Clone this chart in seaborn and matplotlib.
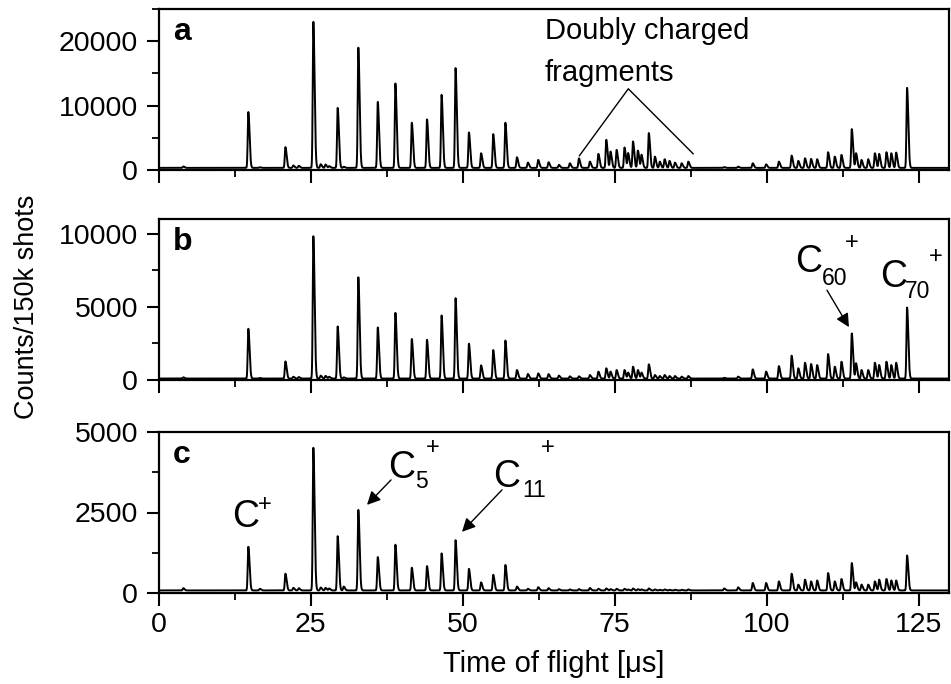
import numpy as np
import pandas as pd
import matplotlib
matplotlib.use("Agg")
import matplotlib.pyplot as plt
import matplotlib.transforms as mtrans
from matplotlib.ticker import MultipleLocator
import seaborn as sns

# ---------------- data ----------------
# singly charged small clusters C1+ ... C20+
pos_main = [14.7, 20.8, 25.4, 29.4, 32.8, 36.0, 38.9, 41.6, 44.1, 46.5,
            48.8, 51.0, 53.0, 55.0, 57.0, 58.9, 60.7, 62.4, 64.1, 65.8]
a_main = [9000, 3550, 23000, 9640, 19000, 10580, 13440, 7340, 7860, 11670,
          15830, 5830, 2600, 5570, 7340, 1980, 1150, 1560, 1200, 800]
b_main = [3500, 1270, 9820, 3660, 7020, 3590, 4590, 2800, 2750, 4410,
          5590, 2480, 1000, 2045, 2700, 680, 410, 450, 400, 300]
c_main = [1435, 600, 4510, 1765, 2580, 1115, 1500, 785, 835, 1230,
          1640, 750, 330, 565, 870, 200, 130, 180, 150, 120]

# doubly charged fullerene fragments
pos_dbl = [67.6, 69.1, 70.9, 72.3, 73.6, 74.3, 75.3, 76.6, 77.2, 78.0,
           78.8, 79.4, 80.6, 81.6, 82.4, 83.2, 84.0, 84.9, 86.0, 87.1]
a_dbl = [1040, 1800, 1300, 2500, 4690, 2860, 3125, 3490, 2600, 4430,
         3020, 2340, 5730, 2080, 1300, 1670, 1410, 1150, 1040, 1300]
b_dbl = [250, 250, 340, 570, 800, 570, 680, 680, 500, 910,
         680, 500, 1070, 340, 270, 340, 270, 270, 230, 270]
c_dbl = [110, 120, 155, 130, 140, 120, 130, 130, 110, 140,
         120, 110, 140, 110, 100, 110, 100, 100, 100, 110]

# large fullerenes region (C60+, C70+ and fragments)
pos_ful = [95.3, 97.7, 99.9, 102.0, 104.1, 105.2, 106.3, 107.3, 108.3, 110.1,
           111.2, 112.3, 114.0, 114.7, 115.6, 116.7, 117.8, 118.5, 119.7, 120.5,
           121.3, 123.1]
a_ful = [520, 1040, 880, 1300, 2240, 1410, 1820, 1720, 1670, 2760,
         2080, 2340, 6350, 2600, 1560, 1670, 2600, 2500, 2760, 2600,
         2710, 12760]
b_ful = [230, 725, 570, 950, 1660, 800, 1180, 1090, 1020, 1770,
         910, 1250, 3180, 1140, 680, 680, 1180, 1020, 1250, 1020,
         1180, 4950]
c_ful = [175, 310, 310, 360, 600, 260, 415, 360, 390, 620,
         360, 435, 930, 330, 260, 260, 360, 415, 435, 390,
         390, 1165]

# minor satellite features
pos_min = [4.0, 16.6, 22.1, 23.0, 26.6, 27.4, 28.0, 30.4, 93.0]
a_min = [550, 420, 700, 650, 900, 850, 600, 500, 450]
b_min = [180, 140, 220, 200, 300, 280, 220, 180, 150]
c_min = [150, 130, 160, 150, 170, 160, 140, 200, 140]

baselines = {"a": 330, "b": 100, "c": 80}
ylims = {"a": (0, 25000), "b": (0, 11000), "c": (0, 5000)}
ymajor = {"a": 10000, "b": 5000, "c": 2500}
panels = ["a", "b", "c"]
tops = {
    "a": (a_main, a_dbl, a_ful, a_min),
    "b": (b_main, b_dbl, b_ful, b_min),
    "c": (c_main, c_dbl, c_ful, c_min),
}
xticks = [0, 25, 50, 75, 100, 125]

# ---------------- build spectra ----------------
t = np.arange(0, 130.001, 0.02)
positions = pos_main + pos_dbl + pos_ful + pos_min


def spectrum(panel):
    base = baselines[panel]
    heights = sum((list(h) for h in tops[panel]), [])
    y = np.full_like(t, float(base))
    for p, h in zip(positions, heights):
        amp = max(h - base, 0)
        sig = np.where(t < p, 0.10, 0.20)
        y += amp * np.exp(-0.5 * ((t - p) / sig) ** 2)
    return y


frames = [pd.DataFrame({"tof": t, "counts": spectrum(p), "panel": p}) for p in panels]
df = pd.concat(frames, ignore_index=True)

# ---------------- figure ----------------
sns.set_theme(style="ticks")
plt.rcParams["font.family"] = ["Liberation Sans", "DejaVu Sans"]
plt.rcParams["axes.linewidth"] = 1.6
for k in ["text.color", "axes.labelcolor", "xtick.color", "ytick.color",
          "axes.edgecolor", "xtick.labelcolor", "ytick.labelcolor"]:
    plt.rcParams[k] = "black"

W, H = 951, 684
fig = plt.figure(figsize=(W / 100, H / 100), dpi=100)
left, right = 159, 949
boxes = {"a": (9, 170), "b": (219, 380), "c": (432, 593)}
axes = {}
for p in panels:
    top, bot = boxes[p]
    ax = fig.add_axes([left / W, 1 - bot / H, (right - left) / W, (bot - top) / H])
    axes[p] = ax
    sub = df[df["panel"] == p]
    sns.lineplot(data=sub, x="tof", y="counts", ax=ax, color="black",
                 linewidth=1.4, estimator=None, sort=False)
    ax.set_xlim(0, 130)
    ax.set_ylim(*ylims[p])
    ax.set_xticks(xticks)
    ax.xaxis.set_minor_locator(MultipleLocator(12.5))
    ax.yaxis.set_major_locator(MultipleLocator(ymajor[p]))
    ax.yaxis.set_minor_locator(MultipleLocator(ymajor[p] / 2))
    ax.tick_params(which="major", direction="out", length=9, width=1.5,
                   labelsize=20.5, pad=5, colors="black")
    ax.tick_params(which="minor", direction="out", length=5, width=1.3,
                   colors="black")
    ax.tick_params(axis="y", which="major", pad=6)
    for s in ax.spines.values():
        s.set_visible(True)
        s.set_color("black")
        s.set_linewidth(1.6)
    ax.set_xlabel("")
    ax.set_ylabel("")
    if p != "c":
        ax.tick_params(axis="x", labelbottom=False)
    ax.text(0.018, 0.81, p, transform=ax.transAxes, fontsize=23,
            fontweight="bold", va="baseline", ha="left", color="black")

fig.text(554 / W, 1 - 672 / H, "Time of flight [\u03bcs]", fontsize=21,
         ha="center", va="baseline", color="black")
fig.text(27 / W, 1 - 307 / H, "Counts/150k shots", fontsize=19.5,
         ha="center", va="center", rotation=90, color="black")

# ---------------- annotations ----------------
axa, axb, axc = axes["a"], axes["b"], axes["c"]
axa.text(63.5, 20310, "Doubly charged", fontsize=21, ha="left", va="baseline")
axa.text(63.5, 13750, "fragments", fontsize=21, ha="left", va="baseline")
axa.plot([69.16, 77.23, 87.92], [2190, 12610, 2500], color="black", lw=1.0)


def ion(ax, x, y, sub, sub_dx, sub_dy, plus_dx, plus_dy):
    ax.text(x, y, "C", fontsize=27, ha="left", va="baseline")
    if sub:
        tr = mtrans.offset_copy(ax.transData, fig=fig, x=sub_dx, y=sub_dy, units="dots")
        ax.text(x, y, sub, fontsize=16.5, ha="left", va="baseline", transform=tr)
    tr = mtrans.offset_copy(ax.transData, fig=fig, x=plus_dx, y=plus_dy, units="dots")
    ax.text(x, y, "+", fontsize=17, ha="center", va="center", transform=tr)


ion(axb, 104.66, 7364, "60", 27, -13, 57, 29)
ion(axb, 118.64, 6341, "70", 25, -11, 56, 30)
ion(axc, 12.01, 2055, "", 0, 0, 33, 22)
ion(axc, 37.68, 3574, "5", 27, -10, 45, 30)
ion(axc, 54.96, 3295, "11", 29, -10, 55, 39)

arrow = dict(arrowstyle="-|>", color="black", lw=1.0, mutation_scale=20,
             shrinkA=0, shrinkB=0)
axb.annotate("", xy=(113.54, 3614), xytext=(109.92, 6136), arrowprops=arrow)
axc.annotate("", xy=(34.23, 2737), xytext=(38.18, 3512), arrowprops=arrow)
axc.annotate("", xy=(49.86, 1900), xytext=(56.44, 3202), arrowprops=arrow)

fig.savefig("out.png", dpi=100)
